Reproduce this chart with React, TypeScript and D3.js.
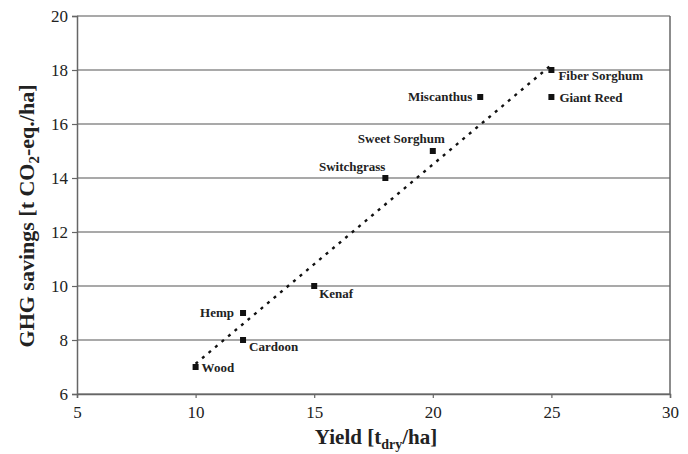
import { useEffect, useRef } from 'react'
import * as d3 from 'd3'

const crops = ['Wood', 'Hemp', 'Cardoon', 'Kenaf', 'Switchgrass', 'Sweet Sorghum', 'Miscanthus', 'Giant Reed', 'Fiber Sorghum']
const yieldValues = [10, 12, 12, 15, 18, 20, 22, 25, 25]
const ghgSavings = [7, 9, 8, 10, 14, 15, 17, 17, 18]
const xTicks = [5, 10, 15, 20, 25, 30]
const yTicks = [6, 8, 10, 12, 14, 16, 18, 20]

// label placement per crop: [dx, dy, anchor]
const labelPos: [number, number, string][] = [
  [6, 5, 'start'],
  [-9, 4, 'end'],
  [6, 11, 'start'],
  [5, 12, 'start'],
  [0, -7, 'end'],
  [12, -8, 'end'],
  [-8, 4, 'end'],
  [8, 5, 'start'],
  [7, 10, 'start']
]

export default function App() {
  const svgRef = useRef<SVGSVGElement>(null)

  useEffect(() => {
    const svg = d3.select(svgRef.current)
    svg.selectAll('*').remove()

    const x = d3.scaleLinear([5, 30], [77, 670])
    const y = d3.scaleLinear([6, 20], [394, 16])
    const serif = '"Liberation Serif", "Times New Roman", serif'

    // grid lines
    svg.append('g')
      .selectAll('line')
      .data(yTicks)
      .join('line')
      .attr('x1', x(5)).attr('x2', x(30))
      .attr('y1', d => y(d)).attr('y2', d => y(d))
      .attr('stroke', '#555')
      .attr('stroke-width', 1.2)

    // right border
    svg.append('line')
      .attr('x1', x(30)).attr('x2', x(30))
      .attr('y1', y(20)).attr('y2', y(6))
      .attr('stroke', '#666').attr('stroke-width', 1.5)

    // x axis
    const xAxis = svg.append('g')
      .attr('transform', `translate(0,${y(6)})`)
      .call(d3.axisBottom(x).tickValues(xTicks).tickSize(4).tickPadding(8))
    // y axis
    const yAxis = svg.append('g')
      .attr('transform', `translate(${x(5)},0)`)
      .call(d3.axisLeft(y).tickValues(yTicks).tickSize(5).tickPadding(4))

    for (const g of [xAxis, yAxis]) {
      g.select('.domain').attr('stroke', '#666').attr('stroke-width', 1.5)
      g.selectAll('.tick line').attr('stroke', '#666').attr('stroke-width', 1.2)
      g.selectAll('.tick text')
        .attr('fill', '#222')
        .style('font-family', serif)
        .style('font-size', '17px')
    }

    // trend line (least squares)
    const mx = d3.mean(yieldValues)!
    const my = d3.mean(ghgSavings)!
    const sxy = d3.sum(yieldValues, (v, i) => (v - mx) * (ghgSavings[i] - my))
    const sxx = d3.sum(yieldValues, v => (v - mx) ** 2)
    const slope = sxy / sxx
    const icpt = my - slope * mx
    const ext = d3.extent(yieldValues) as [number, number]
    svg.append('path')
      .datum(ext)
      .attr('d', d3.line<number>().x(d => x(d)).y(d => y(slope * d + icpt)))
      .attr('stroke', '#111')
      .attr('stroke-width', 2.4)
      .attr('stroke-dasharray', '3 5.5')
      .attr('fill', 'none')

    // points
    svg.append('g')
      .selectAll('rect')
      .data(crops)
      .join('rect')
      .attr('x', (_, i) => x(yieldValues[i]) - 3)
      .attr('y', (_, i) => y(ghgSavings[i]) - 3)
      .attr('width', 6)
      .attr('height', 6)
      .attr('fill', '#111')

    // labels
    svg.append('g')
      .selectAll('text')
      .data(crops)
      .join('text')
      .attr('x', (_, i) => x(yieldValues[i]) + labelPos[i][0])
      .attr('y', (_, i) => y(ghgSavings[i]) + labelPos[i][1])
      .attr('text-anchor', (_, i) => labelPos[i][2])
      .style('font-family', serif)
      .style('font-size', '13px')
      .style('font-weight', 'bold')
      .attr('fill', '#222')
      .text(d => d)

    // axis titles
    const xt = svg.append('text')
      .attr('x', 376).attr('y', 444)
      .attr('text-anchor', 'middle')
      .style('font-family', serif)
      .style('font-size', '21px')
      .style('font-weight', 'bold')
      .attr('fill', '#222')
    xt.append('tspan').text('Yield [t')
    xt.append('tspan').attr('dy', 5).style('font-size', '14px').text('dry')
    xt.append('tspan').attr('dy', -5).text('/ha]')

    const yt = svg.append('text')
      .attr('transform', `translate(34,216) rotate(-90)`)
      .attr('text-anchor', 'middle')
      .style('font-family', serif)
      .style('font-size', '22px')
      .style('font-weight', 'bold')
      .attr('fill', '#222')
    yt.append('tspan').text('GHG savings [t CO')
    yt.append('tspan').attr('dy', 5).style('font-size', '15px').text('2')
    yt.append('tspan').attr('dy', -5).text('-eq./ha]')
  }, [])

  return (
    <svg ref={svgRef} width={688} height={454}
      style={{ position: 'absolute', left: 0, top: 0, background: '#fff' }} />
  )
}
